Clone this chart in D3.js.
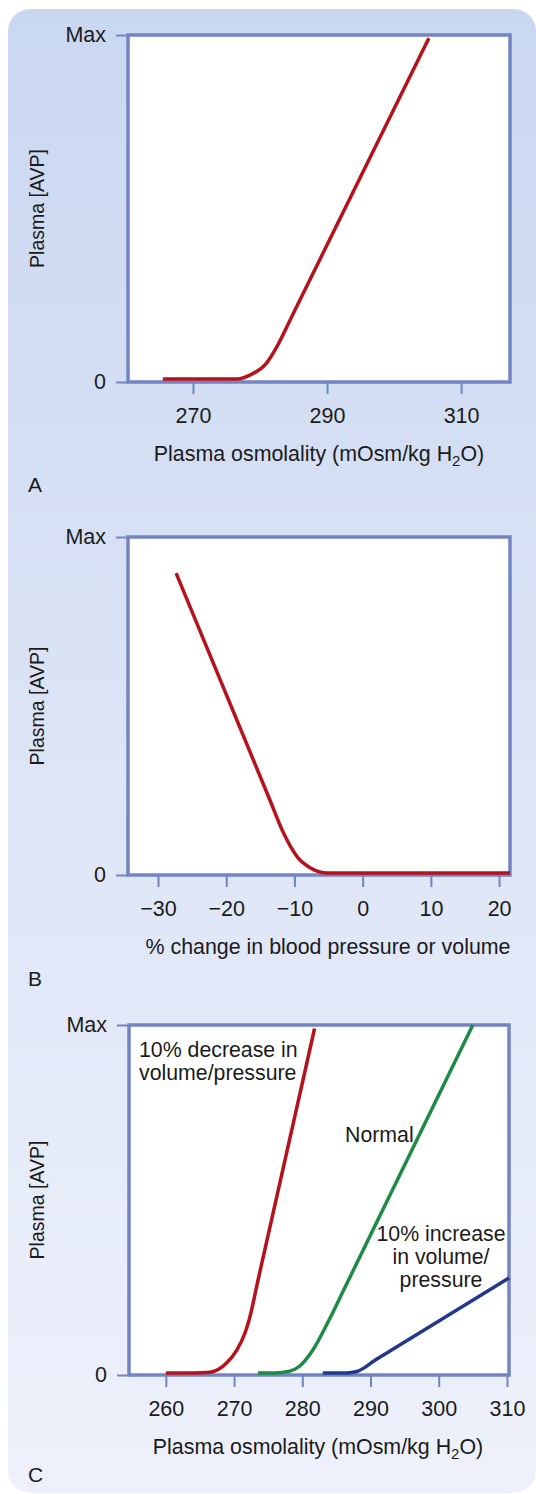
<!DOCTYPE html>
<html lang="en">
  <head>
    <meta charset="utf-8" />
    <title>AVP response curves</title>
    <script type="text/javascript" src="https://d3js.org/d3.v7.min.js"></script>
    <style>
      body { margin: 0; background: #ffffff; }
      text { font-family: "Liberation Sans", Arial, Helvetica, sans-serif; fill: #1b1b1b; }
    </style>
  </head>
  <body>
    <div id="chart"></div>

    <script type="text/javascript">
      /********************************
       * data
       ********************************/

      // panel A: AVP vs plasma osmolality
      const aTicks = [270, 290, 310];
      const aOsm = [265.5, 276.6, 278.5, 281.0, 282.5, 285, 305.2];
      const aAvp = [0.009, 0.009, 0.02, 0.055, 0.101, 0.199, 0.991];

      // panel B: AVP vs % change in blood pressure / volume
      const bTicks = [-30, -20, -10, 0, 10, 20];
      const bChange = [-27.35, -13.6, -11.6, -9.56, -7.65, -5.15, 21.6];
      const bAvp = [0.893, 0.222, 0.124, 0.053, 0.021, 0.006, 0.006];

      // panel C: osmolality curves shifted by volume/pressure
      const cTicks = [260, 270, 280, 290, 300, 310];
      const cDecreaseOsm = [260, 264, 266.5, 268.9, 270.4, 271.6, 272.2, 273.5, 281.8];
      const cDecreaseAvp = [0.006, 0.006, 0.008, 0.034, 0.071, 0.12, 0.157, 0.27, 0.99];
      const cNormalOsm = [273.5, 276, 278, 279.6, 281.5, 284, 286, 305];
      const cNormalAvp = [0.006, 0.006, 0.01, 0.025, 0.07, 0.16, 0.24, 1.0];
      const cIncreaseOsm = [283, 286.5, 288, 289.2, 290.5, 292.5, 310.3];
      const cIncreaseAvp = [0.006, 0.006, 0.01, 0.022, 0.04, 0.064, 0.277];

      const yTicks = [0, 1];
      const yTickLabels = ["0", "Max"];

      /***************************
       * svg + background
       **************************/

      const width = 536;
      const height = 1494;
      const frameColor = "#7284c4";
      const red = "#b5121b";
      const green = "#1d8a45";
      const blue = "#22388c";

      const svg = d3
        .select("div#chart")
        .append("svg")
        .attr("width", width)
        .attr("height", height);

      const grad = svg
        .append("defs")
        .append("linearGradient")
        .attr("id", "bg")
        .attr("x1", 0)
        .attr("y1", 0)
        .attr("x2", 0)
        .attr("y2", 1);
      grad.append("stop").attr("offset", "0%").attr("stop-color", "#cad7f0");
      grad.append("stop").attr("offset", "100%").attr("stop-color", "#eef1fb");

      svg
        .append("rect")
        .attr("x", 8)
        .attr("y", 9)
        .attr("width", 528)
        .attr("height", 1484)
        .attr("rx", 22)
        .attr("fill", "url(#bg)");

      /****************************
       * one panel
       *************************/

      function drawPanel(p) {
        const x = d3.scaleLinear().domain(p.xDomain).range([p.left, p.right]);
        const y = d3.scaleLinear().domain([0, 1]).range([p.bottom, p.top]);

        // frame
        svg
          .append("rect")
          .attr("x", p.left)
          .attr("y", p.top)
          .attr("width", p.right - p.left)
          .attr("height", p.bottom - p.top)
          .attr("fill", "#ffffff")
          .attr("stroke", frameColor)
          .attr("stroke-width", 3.5);

        // axes
        const xAxis = d3
          .axisBottom(x)
          .tickValues(p.ticks)
          .tickSize(12)
          .tickSizeOuter(0)
          .tickPadding(14)
          .tickFormat(d3.format("d"));

        const gx = svg
          .append("g")
          .attr("transform", `translate(0,${p.bottom})`)
          .call(xAxis);
        gx.select(".domain").remove();
        gx.selectAll("line").attr("stroke", frameColor).attr("stroke-width", 2);
        gx.selectAll("text")
          .attr("font-size", 21.5)
          .attr("fill", "#1b1b1b")
          .attr("font-family", null);

        const yAxis = d3
          .axisLeft(y)
          .tickValues(yTicks)
          .tickSize(12)
          .tickSizeOuter(0)
          .tickPadding(10)
          .tickFormat((d, i) => yTickLabels[i]);

        const gy = svg
          .append("g")
          .attr("transform", `translate(${p.left},0)`)
          .call(yAxis);
        gy.select(".domain").remove();
        gy.selectAll("line").attr("stroke", frameColor).attr("stroke-width", 2);
        gy.selectAll("text")
          .attr("font-size", 21.5)
          .attr("fill", "#1b1b1b")
          .attr("font-family", null);

        // axis titles
        svg
          .append("text")
          .attr("transform", `translate(44,${(p.top + p.bottom) / 2}) rotate(-90)`)
          .attr("text-anchor", "middle")
          .attr("font-size", 19.5)
          .text("Plasma [AVP]");

        const title = svg
          .append("text")
          .attr("x", p.titleX)
          .attr("y", p.bottom + 79)
          .attr("text-anchor", "middle")
          .attr("font-size", 21.4);
        if (p.water) {
          title.append("tspan").text("Plasma osmolality (mOsm/kg H");
          title.append("tspan").attr("font-size", 15).attr("dy", 5).text("2");
          title.append("tspan").attr("dy", -5).text("O)");
        } else {
          title.text(p.title);
        }

        // panel letter
        svg
          .append("text")
          .attr("x", 28)
          .attr("y", p.letterY)
          .attr("font-size", 21)
          .text(p.letter);

        // curves
        const line = d3
          .line()
          .x((d) => x(d[0]))
          .y((d) => y(d[1]))
          .curve(d3.curveMonotoneX);

        p.series.forEach((s) => {
          svg
            .append("path")
            .datum(d3.zip(s.xs, s.ys))
            .attr("d", line)
            .attr("fill", "none")
            .attr("stroke", s.color)
            .attr("stroke-width", 3.5)
            .attr("stroke-linecap", "butt");
        });

        return { x, y };
      }

      drawPanel({
        top: 35, bottom: 382, left: 128, right: 510,
        xDomain: [260.3, 317.3], ticks: aTicks,
        titleX: 319, water: true, letter: "A", letterY: 492,
        series: [{ xs: aOsm, ys: aAvp, color: red }],
      });

      drawPanel({
        top: 537, bottom: 875, left: 128, right: 510,
        xDomain: [-34.4, 21.6], ticks: bTicks,
        titleX: 328, title: "% change in blood pressure or volume",
        letter: "B", letterY: 986,
        series: [{ xs: bChange, ys: bAvp, color: red }],
      });

      drawPanel({
        top: 1025, bottom: 1375, left: 129, right: 509,
        xDomain: [254.6, 310.3], ticks: cTicks,
        titleX: 318, water: true, letter: "C", letterY: 1482,
        series: [
          { xs: cDecreaseOsm, ys: cDecreaseAvp, color: red },
          { xs: cNormalOsm, ys: cNormalAvp, color: green },
          { xs: cIncreaseOsm, ys: cIncreaseAvp, color: blue },
        ],
      });

      /*********************************
       * curve labels in panel C
       *******************************/

      const labels = [
        { lines: ["10% decrease in", "volume/pressure"], x: 139, y: 1057, anchor: "start" },
        { lines: ["Normal"], x: 345, y: 1142, anchor: "start" },
        { lines: ["10% increase", "in volume/", "pressure"], x: 441, y: 1241, anchor: "middle" },
      ];

      labels.forEach((l) => {
        const t = svg
          .append("text")
          .attr("x", l.x)
          .attr("y", l.y)
          .attr("text-anchor", l.anchor)
          .attr("font-size", 21.3);
        l.lines.forEach((s, i) => {
          t.append("tspan")
            .attr("x", l.x)
            .attr("dy", i === 0 ? 0 : 23)
            .text(s);
        });
      });
    </script>
  </body>
</html>
